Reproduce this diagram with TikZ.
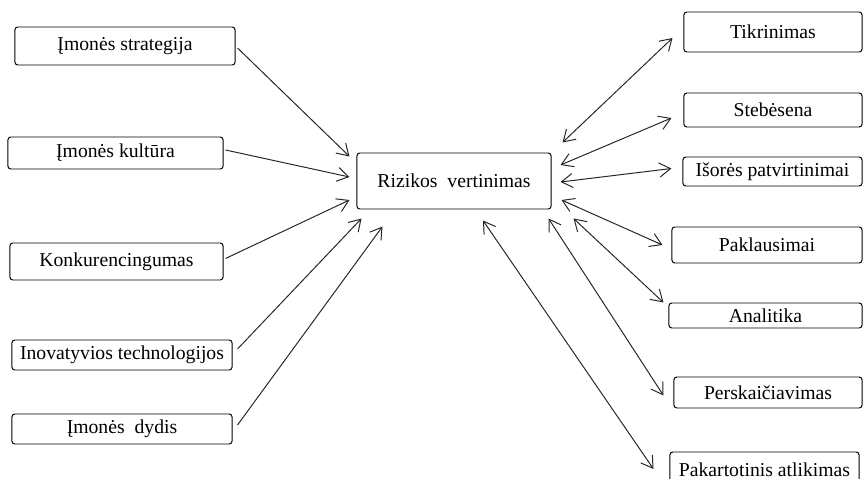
\documentclass[tikz,border=0pt]{standalone}
\usepackage{fontspec}
\setmainfont{Liberation Serif}
\usetikzlibrary{arrows.meta,calc}

\begin{document}
\begin{tikzpicture}[x=0.025cm, y=-0.025cm, >={Straight Barb[length=8pt,width=10pt]},
    box/.style={draw, rounded corners=2pt, line width=.7pt, inner sep=0pt,
        font=\fontsize{14}{16}\selectfont},
    arr/.style={->, line width=.7pt, black!85},
    darr/.style={<->, line width=.7pt, black!85}]
    \useasboundingbox (0,0) rectangle (864,479);
    \clip (0,0) rectangle (864,479);

    % factors on the left
    \node[box, minimum width=5.5cm, minimum height=.95cm] (strat) at (125,46) {Įmonės strategija};
    \node[box, minimum width=5.375cm, minimum height=.8cm] (kult) at (115.5,153) {Įmonės kultūra};
    \node[box, minimum width=5.325cm, minimum height=.925cm] (konk) at (116.5,261.5) {Konkurencingumas};
    \node[box, minimum width=5.5cm, minimum height=.75cm] (inov) at (122,355) {Inovatyvios technologijos};
    \node[box, minimum width=5.5cm, minimum height=.75cm] (dyd) at (122,429) {Įmonės\ \ dydis};

    % centre
    \node[box, minimum width=4.85cm, minimum height=1.4cm] (riz) at (454,181) {Rizikos\ \ vertinimas};

    % procedures on the right
    \node[box, minimum width=4.45cm, minimum height=1cm] (tikr) at (773,32) {Tikrinimas};
    \node[box, minimum width=4.45cm, minimum height=.85cm] (steb) at (773,110) {Stebėsena};
    \node[box, minimum width=4.475cm, minimum height=.725cm] (isor) at (772.5,171.5) {Išorės patvirtinimai};
    \node[box, minimum width=4.75cm, minimum height=.9cm] (pakl) at (767,245) {Paklausimai};
    \node[box, minimum width=4.825cm, minimum height=.625cm] (anal) at (765.5,315.5) {Analitika};
    \node[box, minimum width=4.7cm, minimum height=.775cm] (persk) at (768,392.5) {Perskaičiavimas};
    \node[box, minimum width=4.725cm, minimum height=.9cm] (pakart) at (764.5,470) {Pakartotinis atlikimas};

    \draw[arr] ($(strat.east)+(2,2)$) -- ($(riz.north west)+(-7,4)$);
    \draw[arr] ($(kult.east)+(2,-3)$) -- ($(riz.west)+(-7,-4)$);
    \draw[arr] ($(konk.east)+(2,-3)$) -- ($(riz.west)+(-7,19)$);
    \draw[arr] ($(inov.east)+(5,-6)$) -- ($(riz.south west)+(5,9)$);
    \draw[arr] ($(dyd.east)+(5,-4)$) -- ($(riz.south west)+(26,17)$);

    \draw[darr] ($(riz.north east)+(11,-10)$) -- ($(tikr.west)+(-11,6)$);
    \draw[darr] ($(riz.east)+(9,-16)$) -- ($(steb.west)+(-12,8)$);
    \draw[darr] ($(riz.east)+(9,1)$) -- ($(isor.west)+(-11,-3)$);
    \draw[darr] ($(riz.east)+(10,19)$) -- ($(pakl.west)+(-9,0)$);
    \draw[darr] ($(riz.south east)+(22,9)$) -- ($(anal.west)+(-5,-13)$);
    \draw[darr] ($(riz.south east)+(-3,9)$) -- ($(persk.west)+(-10,3)$);
    \draw[darr] ($(riz.south)+(29,11)$) -- ($(pakart.west)+(-16,-1)$);
\end{tikzpicture}
\end{document}
